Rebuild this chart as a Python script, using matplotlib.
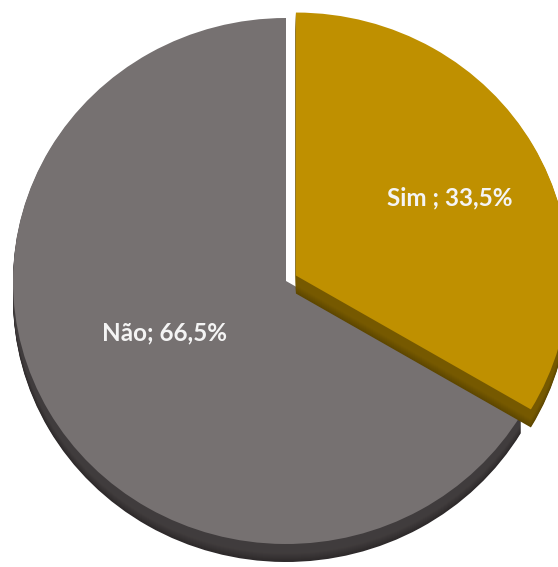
import numpy as np
import matplotlib.pyplot as plt
import matplotlib.colors as mcolors

# Survey answers
labels = ["Sim", "Não"]
shares = [33.5, 66.5]
label_seps = [" ; ", "; "]
face_colors = ["#BF9000", "#767171"]
side_colors = ["#5E4700", "#2E2A2B"]
explode_px = [11, 0]

W, H = 558, 567
xscale = 1.038            # pie is drawn slightly wider than tall
cx, cy = 286 / xscale, H - 281
radius = 263
depth = 18

fig = plt.figure(figsize=(W / 100, H / 100), dpi=100)
ax = fig.add_axes([0, 0, 1, 1])


def draw_slice(idx, dy, color):
    # draw only slice idx by making the other one transparent
    cols = ["none", "none"]
    cols[idx] = color
    wedges, _ = ax.pie(shares, colors=cols, startangle=90, counterclock=False,
                       explode=explode_px, radius=radius, center=(cx, cy - dy),
                       frame=True, wedgeprops=dict(linewidth=0))
    return wedges


# grey slice first, then the exploded gold one above it
for idx in (1, 0):
    side = np.array(mcolors.to_rgb(side_colors[idx]))
    face = np.array(mcolors.to_rgb(face_colors[idx]))
    for d in range(depth, 0, -1):
        t = max(0.0, (d - depth * 0.55) / (depth * 0.45))
        mix = side * (1 - 0.25 * (1 - t)) + face * 0.25 * (1 - t)
        draw_slice(idx, d, tuple(np.clip(mix, 0, 1)))
    draw_slice(idx, 0, face_colors[idx])

ax.set_aspect("auto")
ax.set_xlim(0, W / xscale)
ax.set_ylim(0, H)
ax.axis("off")

# data labels
label_pos = [(450, H - 198), (165, H - 333)]
for name, sep, val, (x, y) in zip(labels, label_seps, shares, label_pos):
    txt = f"{name}{sep}{val:.1f}%".replace(".", ",")
    ax.text(x / xscale, y, txt, ha="center", va="center", color="#F4F4F4",
            fontsize=17.5, fontweight="bold", family=["Lato", "DejaVu Sans"])

fig.savefig("out.png", dpi=100, facecolor="white")
